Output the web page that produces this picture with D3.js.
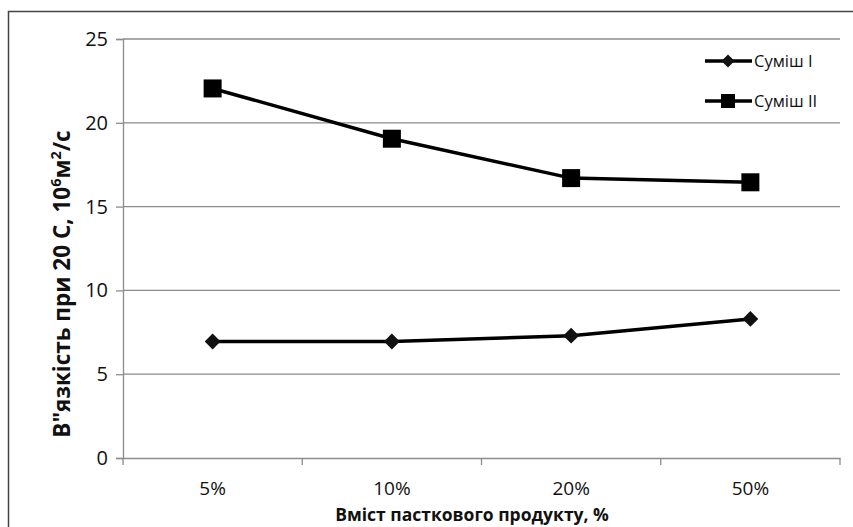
<!DOCTYPE html>
<html><head><meta charset="utf-8">
<script src="https://cdn.jsdelivr.net/npm/d3@7"></script>
<style>body{margin:0;background:#fff;}svg{display:block;}</style>
</head><body>
<svg id="c" width="853" height="527"></svg>
<script>
const categories = ["5%", "10%", "20%", "50%"];
const seriesNames = ["Суміш I", "Суміш II"];
const mix1 = [6.95, 6.95, 7.3, 8.3];
const mix2 = [22.05, 19.05, 16.7, 16.45];
const yTicks = [0, 5, 10, 15, 20, 25];

const svg = d3.select("#c");
const W = 853, H = 527;
const m = {left: 123, right: 13, top: 39, bottom: 69};
const FONT = "Open Sans, sans-serif";

svg.append("rect").attr("x", 8.5).attr("y", 11.5).attr("width", 860).attr("height", 540)
  .attr("fill", "#fff").attr("stroke", "#444").attr("stroke-width", 1.5);

const x = d3.scaleBand().domain(categories).range([m.left, W - m.right]);
const y = d3.scaleLinear().domain([0, 25]).range([H - m.bottom, m.top]);

// gridlines
svg.append("g").selectAll("line").data(yTicks.filter(d => d > 0)).join("line")
  .attr("x1", m.left).attr("x2", W - m.right)
  .attr("y1", d => y(d)).attr("y2", d => y(d))
  .attr("stroke", "#8c8c8c").attr("stroke-width", 1.3);

// y axis
const ya = svg.append("g").attr("transform", `translate(${m.left},0)`)
  .call(d3.axisLeft(y).tickValues(yTicks).tickSize(7).tickPadding(8));
ya.select(".domain").attr("stroke", "#8c8c8c").attr("stroke-width", 1.3);
ya.selectAll(".tick line").attr("stroke", "#8c8c8c").attr("stroke-width", 1.3);
ya.selectAll("text").attr("font-family", FONT).attr("font-size", 20).attr("fill", "#111");

// x axis
const xa = svg.append("g").attr("transform", `translate(0,${y(0)})`)
  .call(d3.axisBottom(x).tickSize(0).tickPadding(24));
xa.select(".domain").attr("stroke", "#8c8c8c").attr("stroke-width", 1.3);
xa.selectAll("text").attr("font-family", FONT).attr("font-size", 19).attr("fill", "#111");
const edges = categories.map(c => x(c)).concat([x(categories[categories.length - 1]) + x.bandwidth()]);
xa.selectAll(".edge").data(edges).join("line").attr("class", "edge")
  .attr("x1", d => d).attr("x2", d => d).attr("y1", 0).attr("y2", 7)
  .attr("stroke", "#8c8c8c").attr("stroke-width", 1.3);

const cx = c => x(c) + x.bandwidth() / 2;
const line = d3.line().x((d, i) => cx(categories[i])).y(d => y(d));

function drawSeries(vals, shape) {
  svg.append("path").datum(vals).attr("d", line).attr("fill", "none")
    .attr("stroke", "#000").attr("stroke-width", 3.5);
  const g = svg.append("g");
  vals.forEach((v, i) => {
    if (shape === "diamond") {
      g.append("path").attr("d", d3.symbol(d3.symbolDiamond2, 160)())
        .attr("transform", `translate(${cx(categories[i])},${y(v)})`).attr("fill", "#111");
    } else {
      g.append("rect").attr("x", cx(categories[i]) - 9).attr("y", y(v) - 9)
        .attr("width", 18).attr("height", 18).attr("fill", "#000");
    }
  });
}
drawSeries(mix1, "diamond");
drawSeries(mix2, "square");

// legend
const lg = svg.append("g");
[["diamond", 61], ["square", 101]].forEach(([s, ly], i) => {
  lg.append("line").attr("x1", 705).attr("x2", 752).attr("y1", ly).attr("y2", ly)
    .attr("stroke", "#000").attr("stroke-width", 3.5);
  if (s === "diamond") {
    lg.append("path").attr("d", d3.symbol(d3.symbolDiamond2, 110)())
      .attr("transform", `translate(728,${ly})`).attr("fill", "#111");
  } else {
    lg.append("rect").attr("x", 721).attr("y", ly - 7).attr("width", 14).attr("height", 14).attr("fill", "#000");
  }
  lg.append("text").attr("x", 754).attr("y", ly).attr("dy", "0.35em")
    .attr("font-family", FONT).attr("font-size", 16.5).attr("fill", "#111")
    .text(seriesNames[i]);
});

// axis titles
svg.append("text").attr("x", 472).attr("y", 521).attr("text-anchor", "middle")
  .attr("font-family", FONT).attr("font-weight", "bold").attr("font-size", 17.5)
  .attr("fill", "#111").text("Вміст пасткового  продукту, %");

const yl = svg.append("text").attr("transform", `translate(70,284) rotate(-90)`)
  .attr("text-anchor", "middle")
  .attr("font-family", FONT).attr("font-weight", "bold").attr("font-size", 22.5).attr("fill", "#111");
yl.append("tspan").text("В\"язкість при 20 С, 10");
yl.append("tspan").attr("baseline-shift", "super").attr("font-size", 14.5).text("6");
yl.append("tspan").text("м");
yl.append("tspan").attr("baseline-shift", "super").attr("font-size", 14.5).text("2");
yl.append("tspan").text("/с");
</script>
</body></html>
